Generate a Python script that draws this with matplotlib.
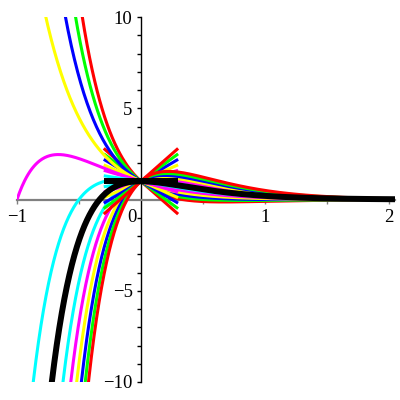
import numpy as np
import matplotlib.pyplot as plt

# y'' + 6y' + 9y = 0, y(0)=1, y'(0)=pente
pentes = [-6, -5, -4, -3, -2, -1, 0, 1, 2, 3, 4, 5, 6]
couleurs = ['red', 'lime', 'blue', 'yellow', 'magenta', 'cyan', 'black',
            'cyan', 'magenta', 'yellow', 'blue', 'lime', 'red']
amort = 3.0
x_tan = [-0.3, 0.3]   # extent of the tangent segments

xticks = [-1, 1, 2]
xlabels = ['\u22121', '1', '2']
yticks = [-10, -5, 5, 10]
ylabels = ['\u221210', '\u22125', '5', '10']

plt.rcParams['font.family'] = 'Liberation Serif'

fig = plt.figure(figsize=(4, 4), dpi=100)
ax = fig.add_axes([17/400, 18/400, 378/400, 365/400])

x = np.linspace(-1, 2.05, 600)
for c, col in zip(pentes, couleurs):
    lw = 4.3 if col == 'black' else 2.2
    z = 4 if col == 'black' else 3
    y = (1 + (c + amort)*x)*np.exp(-amort*x)
    ax.plot(x, y, color=col, lw=lw, zorder=z, solid_capstyle='butt')
    ax.plot(x_tan, [1 + c*x_tan[0], 1 + c*x_tan[1]], color=col, lw=lw,
            zorder=z, solid_capstyle='butt')

ax.set_xlim(-1, 2.05)
ax.set_ylim(-10, 10)

for s in ['top', 'right']:
    ax.spines[s].set_visible(False)
ax.spines['left'].set_position(('data', 0))
ax.spines['bottom'].set_position(('data', 0))
ax.spines['bottom'].set_color('#808080')
ax.spines['bottom'].set_linewidth(1.6)
ax.spines['left'].set_linewidth(1.0)
ax.spines['left'].set_zorder(1)
ax.spines['bottom'].set_zorder(1)

ax.set_xticks(xticks)
ax.set_xticklabels(xlabels)
ax.set_xticks([-0.5, 0.5, 1.5], minor=True)
ax.set_yticks(yticks)
ax.set_yticklabels(ylabels)
ax.set_yticks([v for v in range(-9, 10) if v % 5 != 0], minor=True)

ax.tick_params(axis='x', which='both', direction='out', length=3, width=1,
               color='#808080', labelsize=13.5, pad=4)
ax.tick_params(axis='y', which='both', direction='out', length=3, width=1,
               color='black', labelsize=13.5, pad=3)

ax.annotate('0', xy=(0, 0), xytext=(-9, -18), textcoords='offset pixels',
            ha='center', va='center', fontsize=13.5)

fig.savefig('out.png', dpi=100)
